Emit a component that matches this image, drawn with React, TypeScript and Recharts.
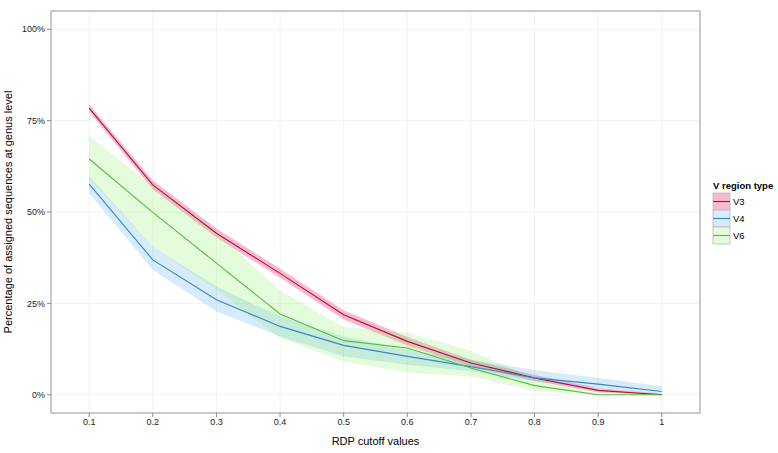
import React from 'react';
import {
  ComposedChart,
  Line,
  Area,
  XAxis,
  YAxis,
  CartesianGrid,
  ReferenceArea,
} from 'recharts';

const cutoffs = [0.1, 0.2, 0.3, 0.4, 0.5, 0.6, 0.7, 0.8, 0.9, 1.0];
const xTicks = [0.1, 0.2, 0.3, 0.4, 0.5, 0.6, 0.7, 0.8, 0.9, 1.0];
const yTicks = [0, 25, 50, 75, 100];

const v3Mean = [78.4, 57.4, 44.2, 33.2, 21.9, 14.6, 8.7, 4.6, 1.2, 0.0];
const v3Low = [77.4, 56.2, 43.0, 32.0, 20.6, 13.5, 7.8, 3.8, 0.6, 0.0];
const v3High = [79.4, 58.6, 45.5, 34.5, 23.1, 15.8, 9.6, 5.4, 1.8, 0.4];

const v4Mean = [57.6, 36.9, 26.0, 18.7, 13.5, 10.5, 7.7, 4.6, 2.9, 0.9];
const v4Low = [55.1, 34.1, 22.8, 15.9, 10.5, 8.2, 6.4, 3.6, 1.8, 0.5];
const v4High = [59.8, 40.5, 29.6, 21.4, 15.9, 12.3, 9.6, 6.8, 4.6, 2.3];

const v6Mean = [64.5, 49.9, 36.0, 22.1, 14.8, 12.8, 7.3, 2.5, 0.0, 0.0];
const v6Low = [59.0, 40.5, 28.8, 15.5, 9.1, 6.0, 5.0, 1.0, 0.0, 0.0];
const v6High = [70.8, 57.0, 44.5, 28.5, 18.5, 17.0, 12.0, 4.5, 0.3, 0.2];

const series = [
  { key: 'v3', name: 'V3', line: '#A8123A', fill: '#EE4A84', fillOpacity: 0.38 },
  { key: 'v4', name: 'V4', line: '#3A86C2', fill: '#5AB4EC', fillOpacity: 0.25 },
  { key: 'v6', name: 'V6', line: '#4EC236', fill: '#84EC60', fillOpacity: 0.22 },
];

const data = cutoffs.map((x, i) => ({
  x,
  v3: v3Mean[i],
  v3r: [v3Low[i], v3High[i]],
  v4: v4Mean[i],
  v4r: [v4Low[i], v4High[i]],
  v6: v6Mean[i],
  v6r: [v6Low[i], v6High[i]],
}));

const FONT = '"Liberation Sans", Arial, Helvetica, sans-serif';

const LegendBox = () => (
  <svg
    width={70}
    height={70}
    style={{ position: 'absolute', left: 712, top: 179, overflow: 'visible' }}
  >
    <text x={1} y={10} fontSize={9.5} fontWeight="bold" fill="#000" fontFamily={FONT}>
      V region type
    </text>
    {series.map((s, i) => {
      const y0 = 14 + i * 17;
      return (
        <g key={s.key}>
          <rect x={1} y={y0} width={17} height={17} fill="#fff" stroke="none" />
          <rect
            x={1}
            y={y0}
            width={17}
            height={17}
            fill={s.fill}
            fillOpacity={s.fillOpacity}
            stroke="#b9b9b9"
            strokeWidth={0.8}
          />
          <line x1={1} x2={18} y1={y0 + 8.5} y2={y0 + 8.5} stroke={s.line} strokeWidth={1.1} />
          <text x={21} y={y0 + 12} fontSize={9.5} fill="#000" fontFamily={FONT}>
            {s.name}
          </text>
        </g>
      );
    })}
  </svg>
);

const YLabel = (props: any) => {
  const vb = props.viewBox || {};
  const cx = 8;
  const cy = (vb.y || 0) + (vb.height || 0) / 2;
  return (
    <text
      x={cx}
      y={cy}
      transform={`rotate(-90 ${cx} ${cy})`}
      textAnchor="middle"
      dominantBaseline="central"
      fontSize={11}
      fill="#000"
      fontFamily={FONT}
    >
      Percentage of assigned sequences at genus level
    </text>
  );
};

const XLabel = (props: any) => {
  const vb = props.viewBox || {};
  const cx = (vb.x || 0) + (vb.width || 0) / 2;
  const cy = (vb.y || 0) + 28;
  return (
    <text
      x={cx}
      y={cy}
      textAnchor="middle"
      dominantBaseline="central"
      fontSize={11}
      fill="#000"
      fontFamily={FONT}
    >
      RDP cutoff values
    </text>
  );
};

export default function App() {
  return (
    <div style={{ position: 'relative', width: 778, height: 453, background: '#fff', fontFamily: FONT }}>
      <style>{`body{margin:0;background:#fff;}`}</style>
      <ComposedChart
        width={778}
        height={453}
        data={data}
        margin={{ top: 11, right: 78, bottom: 0, left: 0 }}
      >
        <CartesianGrid stroke="#efefef" strokeWidth={0.8} />
        <XAxis
          dataKey="x"
          type="number"
          domain={[0.04, 1.06]}
          ticks={xTicks}
          allowDataOverflow
          height={40}
          axisLine={false}
          tickLine={{ stroke: '#8a8a8a' }}
          tickSize={4}
          tick={{ fontSize: 9, fill: '#222', fontFamily: FONT }}
          tickFormatter={(v: number) => (v === 1 ? '1' : v.toFixed(1))}
          label={<XLabel />}
        />
        <YAxis
          type="number"
          domain={[-5, 105]}
          ticks={yTicks}
          allowDataOverflow
          width={51}
          axisLine={false}
          tickLine={{ stroke: '#8a8a8a' }}
          tickSize={4}
          tick={{ fontSize: 9, fill: '#222', fontFamily: FONT }}
          tickFormatter={(v: number) => `${v}%`}
          label={<YLabel />}
        />
        {series.map((s) => (
          <Area
            key={s.key + 'r'}
            dataKey={s.key + 'r'}
            type="linear"
            stroke="none"
            fill={s.fill}
            fillOpacity={s.fillOpacity}
            isAnimationActive={false}
            legendType="none"
          />
        ))}
        {series.map((s) => (
          <Line
            key={s.key}
            dataKey={s.key}
            name={s.name}
            type="linear"
            stroke={s.line}
            strokeWidth={1.1}
            dot={false}
            activeDot={false}
            isAnimationActive={false}
          />
        ))}
        <ReferenceArea
          x1={0.04}
          x2={1.06}
          y1={-5}
          y2={105}
          fill="none"
          stroke="#9a9a9a"
          strokeWidth={1}
          ifOverflow="extendDomain"
        />
      </ComposedChart>
      <LegendBox />
    </div>
  );
}
